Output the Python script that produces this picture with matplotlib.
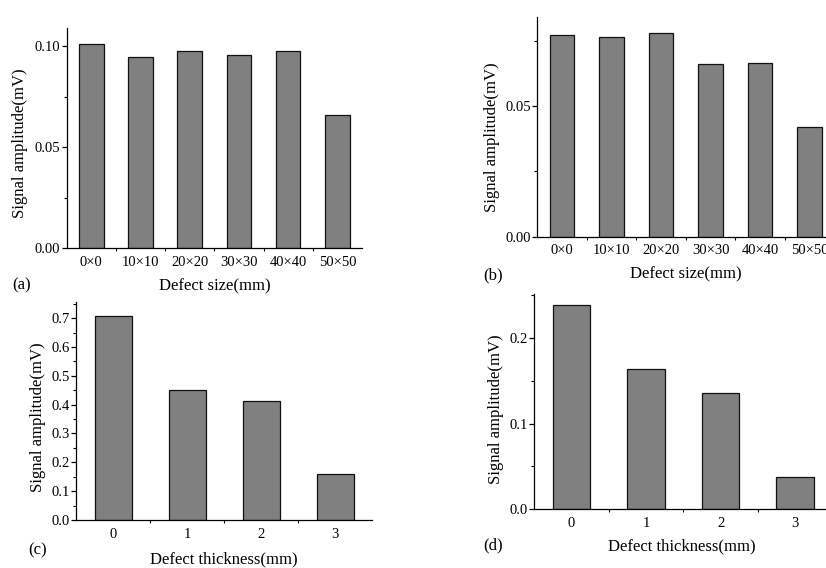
import matplotlib
matplotlib.use("Agg")
import matplotlib.pyplot as plt
from matplotlib.ticker import MultipleLocator, FixedLocator

plt.rcParams["font.family"] = ["Liberation Serif", "DejaVu Serif"]

# Defect size sweep
size_labels = ["0\u00d70", "10\u00d710", "20\u00d720", "30\u00d730", "40\u00d740", "50\u00d750"]
size_amp_a = [0.1010, 0.0944, 0.0974, 0.0954, 0.0974, 0.0660]
size_amp_b = [0.0773, 0.0765, 0.0780, 0.0661, 0.0663, 0.0418]

# Defect thickness sweep
thick_labels = ["0", "1", "2", "3"]
thick_amp_c = [0.706, 0.450, 0.413, 0.161]
thick_amp_d = [0.2378, 0.1630, 0.1360, 0.0373]

W, H = 826, 568
fig = plt.figure(figsize=(W / 100, H / 100), dpi=100)


def px_axes(left, top, right, bottom):
    return fig.add_axes([left / W, 1 - bottom / H, (right - left) / W, (bottom - top) / H])


def px_text(x, y, s, **kw):
    fig.text(x / W, 1 - y / H, s, ha="center", va="center", **kw)


def bar_panel(ax, labels, values, ymax, major, minor, fmt):
    n = len(labels)
    pos = list(range(n))
    ax.bar(pos, values, width=0.5, color="#808080", edgecolor="#111111", linewidth=0.9)
    ax.set_xlim(-0.5, n - 0.5)
    ax.set_ylim(0, ymax)
    for s in ("top", "right"):
        ax.spines[s].set_visible(False)
    for s in ("left", "bottom"):
        ax.spines[s].set_linewidth(0.9)
    ax.set_xticks(pos)
    ax.set_xticklabels(labels)
    ax.xaxis.set_minor_locator(FixedLocator([i + 0.5 for i in range(n - 1)]))
    ax.tick_params(axis="x", which="major", length=0, pad=5.5, labelsize=10.5)
    ax.tick_params(axis="x", which="minor", length=2.2, width=0.8, direction="out")
    ax.yaxis.set_major_locator(MultipleLocator(major))
    ax.yaxis.set_minor_locator(MultipleLocator(minor))
    ax.yaxis.set_major_formatter(plt.FormatStrFormatter(fmt))
    ax.tick_params(axis="y", which="major", length=3.6, width=0.9, pad=1.2,
                   direction="out", labelsize=10.5)
    ax.tick_params(axis="y", which="minor", length=2.2, width=0.8, direction="out")


ax_a = px_axes(66.7, 28, 362, 248)
bar_panel(ax_a, size_labels, size_amp_a, 0.109, 0.05, 0.025, "%.2f")

ax_b = px_axes(537.3, 16.7, 834.3, 236.7)
bar_panel(ax_b, size_labels, size_amp_b, 0.0842, 0.05, 0.025, "%.2f")

ax_c = px_axes(76.3, 301.7, 372.3, 520)
bar_panel(ax_c, thick_labels, thick_amp_c, 0.757, 0.1, 0.05, "%.1f")

ax_d = px_axes(534.3, 294, 832.3, 509.3)
bar_panel(ax_d, thick_labels, thick_amp_d, 0.251, 0.1, 0.05, "%.1f")

lab = dict(fontsize=12)
ylab = "Signal amplitude(mV)"

px_text(20.5, 143.5, ylab, rotation=90, **lab)
px_text(492.5, 137.5, ylab, rotation=90, **lab)
px_text(38.3, 417.5, ylab, rotation=90, **lab)
px_text(495.8, 409, ylab, rotation=90, **lab)

px_text(215, 286, "Defect size(mm)", **lab)
px_text(685.8, 274, "Defect size(mm)", **lab)
px_text(224, 559, "Defect thickness(mm)", **lab)
px_text(682, 546, "Defect thickness(mm)", **lab)

px_text(22, 285, "(a)", **lab)
px_text(493, 275, "(b)", **lab)
px_text(38, 550, "(c)", **lab)
px_text(493, 545, "(d)", **lab)

fig.savefig("out.png", dpi=100)
